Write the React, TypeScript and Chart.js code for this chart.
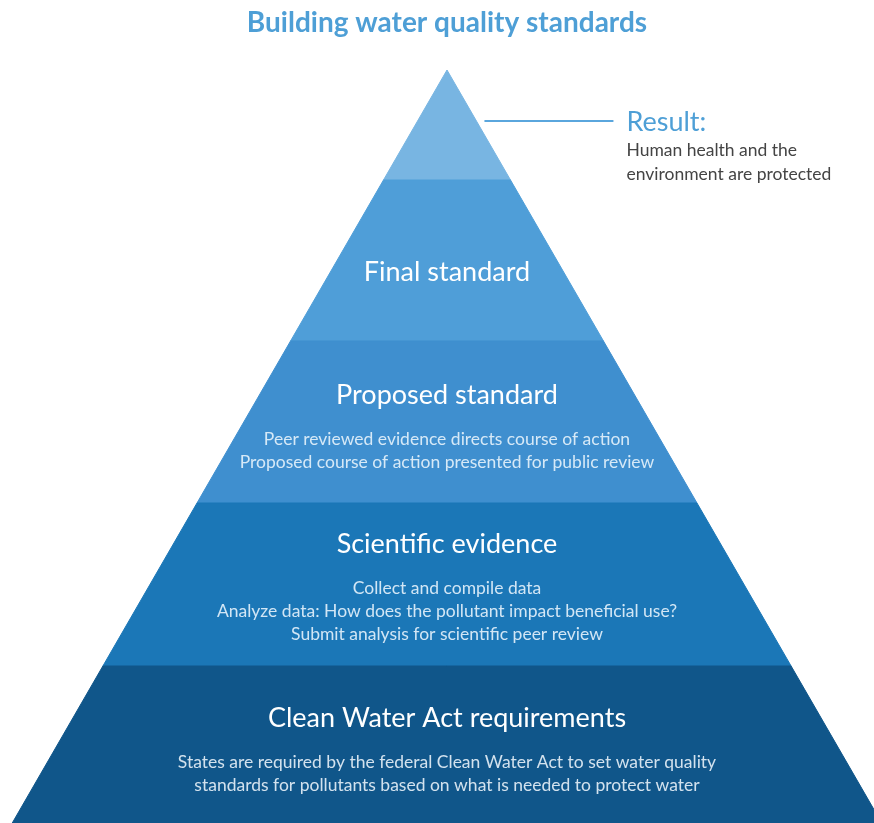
import React, { useEffect, useRef } from "react";
import { Chart, registerables } from "chart.js";
Chart.register(...registerables);

const chartTitle = "Building water quality standards";
const layerTitles = ["Clean Water Act requirements", "Scientific evidence", "Proposed standard", "Final standard", ""];
const layerNotes: string[][] = [
  [
    "States are required by the federal Clean Water Act to set water quality",
    "standards for pollutants based on what is needed to protect water",
  ],
  [
    "Collect and compile data",
    "Analyze data: How does the pollutant impact beneficial use?",
    "Submit analysis for scientific peer review",
  ],
  [
    "Peer reviewed evidence directs course of action",
    "Proposed course of action presented for public review",
  ],
  [],
  [],
];
// level boundaries, bottom to apex
const layerBounds = [-6, 157, 320, 482, 643, 753];
const layerColors = ["#10568a", "#1b77b7", "#3f8fcf", "#4f9ed8", "#78b5e2"];
const noteColors = ["#d3e2ee", "#d2e6f5", "#d6e9f7", "#ffffff", "#ffffff"];
const resultTitle = "Result:";
const resultLines = ["Human health and the", "environment are protected"];
const resultLevel = 702;

const SLOPE = Math.tan(Math.PI / 6);
const APEX = layerBounds[layerBounds.length - 1];
const halfWidth = (v: number) => Math.max(0, (APEX - v) * SLOPE);

const FONT = '"Lato", "Open Sans", sans-serif';

export default function App() {
  const ref = useRef<HTMLCanvasElement | null>(null);
  useEffect(() => {
    const canvas = ref.current!;
    const datasets = layerColors.map((color, i) => {
      const b = layerBounds[i];
      const t = layerBounds[i + 1];
      const pts = [
        { x: -halfWidth(b), y: b },
        { x: halfWidth(b), y: b },
        { x: halfWidth(t), y: t },
        { x: -halfWidth(t), y: t },
        { x: -halfWidth(b), y: b },
      ];
      return {
        label: layerTitles[i] || "Result",
        data: pts,
        backgroundColor: color,
        borderColor: color,
        borderWidth: 1,
        pointRadius: 0,
        tension: 0,
        fill: "shape" as any,
      };
    });

    const textPlugin = {
      id: "pyramidText",
      afterDraw(chart: any) {
        const ctx = chart.ctx as CanvasRenderingContext2D;
        const xs = chart.scales.x;
        const ys = chart.scales.y;
        const cx = xs.getPixelForValue(0);
        ctx.save();
        ctx.textAlign = "center";
        ctx.textBaseline = "middle";
        // main title
        ctx.fillStyle = "#4e9fd6";
        ctx.font = `bold 28px ${FONT}`;
        ctx.fillText(chartTitle, cx, 23);

        // layer texts
        for (let i = 0; i < layerTitles.length; i++) {
          const title = layerTitles[i];
          if (!title) continue;
          const bottom = Math.min(ys.getPixelForValue(layerBounds[i]), chart.height);
          const top = ys.getPixelForValue(layerBounds[i + 1]);
          const c = (bottom + top) / 2;
          const n = layerNotes[i].length;
          const off = n > 0 ? (44 + 23 * (n - 1)) / 2 : 0;
          const T = c - off + (n === 0 ? 12 : n === 2 ? 7 : 5);
          ctx.fillStyle = "#ffffff";
          ctx.font = `27px ${FONT}`;
          ctx.fillText(title, cx, T);
          ctx.fillStyle = noteColors[i];
          ctx.font = `17.5px ${FONT}`;
          layerNotes[i].forEach((line, k) => {
            ctx.fillText(line, cx, T + 44 + 23 * k);
          });
        }

        // result callout
        const ly = ys.getPixelForValue(resultLevel);
        const x0 = xs.getPixelForValue(halfWidth(resultLevel)) + 8;
        const x1 = x0 + 129;
        ctx.strokeStyle = "#5aa6dd";
        ctx.lineWidth = 2;
        ctx.beginPath();
        ctx.moveTo(x0, ly);
        ctx.lineTo(x1, ly);
        ctx.stroke();
        ctx.textAlign = "left";
        ctx.fillStyle = "#4e9fd6";
        ctx.font = `27px ${FONT}`;
        ctx.fillText(resultTitle, x1 + 13, ly + 1);
        ctx.fillStyle = "#444444";
        ctx.font = `17.5px ${FONT}`;
        resultLines.forEach((line, k) => {
          ctx.fillText(line, x1 + 13, ly + 29 + 24 * k);
        });
        ctx.restore();
      },
    };

    const chart = new Chart(canvas, {
      type: "line",
      data: { datasets: datasets as any },
      options: {
        animation: false,
        responsive: false,
        events: [],
        layout: { padding: 0 },
        plugins: {
          legend: { display: false },
          tooltip: { enabled: false },
          title: { display: false },
        },
        scales: {
          x: { type: "linear", min: -447, max: 427, display: false },
          y: { type: "linear", min: 0, max: 823, display: false },
        },
      },
      plugins: [textPlugin],
    });
    return () => chart.destroy();
  }, []);

  return (
    <div style={{ position: "absolute", left: 0, top: 0, width: 874, height: 823, background: "#ffffff" }}>
      <canvas ref={ref} width={874} height={823} style={{ display: "block" }} />
    </div>
  );
}
